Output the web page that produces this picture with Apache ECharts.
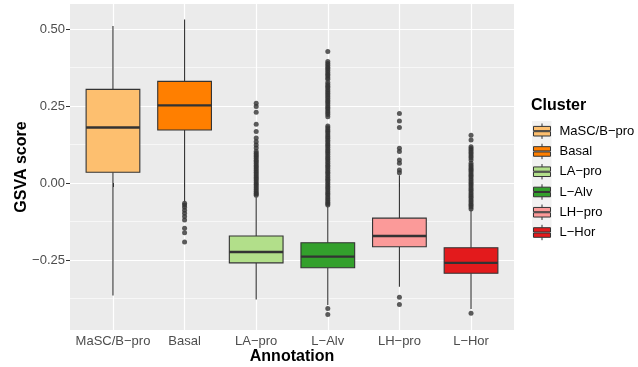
<!DOCTYPE html>
<html>
<head>
<meta charset="utf-8">
<script src="https://cdn.jsdelivr.net/npm/echarts@6/dist/echarts.min.js"></script>
<style>
  html, body { margin: 0; padding: 0; background: #ffffff; }
  #chart { width: 638px; height: 367px; }
</style>
</head>
<body>
<div id="chart"></div>
<script>
// Cell-type annotations (x axis) and their fill colours
const categories = ['MaSC/B\u2212pro', 'Basal', 'LA\u2212pro', 'L\u2212Alv', 'LH\u2212pro', 'L\u2212Hor'];
const palette = ['#FDBF6F', '#FF7F00', '#B2DF8A', '#33A02C', '#FB9A99', '#E31A1C'];

// Box statistics per annotation
const whiskerLow  = [-0.365, -0.060, -0.378, -0.396, -0.337, -0.409];
const quartile1   = [ 0.035,  0.172, -0.259, -0.275, -0.207, -0.293];
const medians     = [ 0.180,  0.252, -0.224, -0.239, -0.172, -0.259];
const quartile3   = [ 0.304,  0.330, -0.172, -0.194, -0.114, -0.210];
const whiskerHigh = [ 0.510,  0.531, -0.046, -0.076,  0.025, -0.088];

// Outlying GSVA scores per annotation
const outMaSC = [];
const outBasal = [-0.066, -0.071, -0.079, -0.088, -0.098, -0.109, -0.120, -0.147, -0.161, -0.191];
const outLApro = [0.259, 0.248, 0.230, 0.191, 0.167, 0.146, 0.134, 0.123, 0.114,
  0.102, 0.097, 0.091, 0.086, 0.080, 0.074, 0.069, 0.063, 0.057, 0.052, 0.046, 0.041,
  0.035, 0.029, 0.024, 0.018, 0.013, 0.007, 0.001, -0.004, -0.010, -0.015, -0.021,
  -0.027, -0.032, -0.036, -0.040];
const outLAlv = [0.427,
  0.394, 0.388, 0.382, 0.376, 0.371, 0.365, 0.359, 0.353, 0.348, 0.342, 0.337,
  0.326, 0.320, 0.314, 0.309, 0.303, 0.297, 0.291, 0.286, 0.280, 0.274, 0.268, 0.263,
  0.257, 0.251, 0.245, 0.240, 0.234, 0.228, 0.222, 0.215,
  0.185, 0.179, 0.173, 0.168, 0.162, 0.156, 0.150, 0.145, 0.139, 0.133, 0.127, 0.122,
  0.116, 0.110, 0.104, 0.099, 0.093, 0.087, 0.081, 0.076, 0.070, 0.064, 0.058, 0.053,
  0.047, 0.041, 0.035, 0.030, 0.024, 0.018, 0.012, 0.007, 0.001, -0.005, -0.011, -0.016,
  -0.022, -0.028, -0.034, -0.039, -0.045, -0.051, -0.057, -0.062, -0.067, -0.071,
  -0.407, -0.427];
const outLHpro = [0.226, 0.201, 0.180, 0.113, 0.102, 0.075, 0.064, 0.042, 0.033, -0.371, -0.394];
const outLHor = [0.155, 0.140,
  0.118, 0.112, 0.106, 0.100, 0.094, 0.088, 0.082, 0.075,
  0.064, 0.058, 0.052, 0.046, 0.042,
  0.037, 0.031, 0.025, 0.020, 0.014, 0.008, 0.002, -0.003, -0.009, -0.015, -0.021,
  -0.026, -0.032, -0.038, -0.044, -0.049, -0.055, -0.061, -0.067, -0.072, -0.078, -0.084,
  -0.423];
const outliers = [outMaSC, outBasal, outLApro, outLAlv, outLHpro, outLHor];

// Axis ticks
const xPositions = [1, 2, 3, 4, 5, 6];
const yMajorTicks = [-0.25, 0, 0.25, 0.5];
const yMinorTicks = [-0.375, -0.125, 0.125, 0.375];

const FONT = "'Liberation Sans', Arial, Helvetica, sans-serif";
const INK = '#333333';

function fmtY(v) {
  return (v < 0 ? '\u2212' : '') + Math.abs(v).toFixed(2);
}

// Draws one ggplot-style box: whiskers without caps, filled box, thick median
function renderBox(params, api) {
  const x = api.value(0);
  const half = api.size([0.75, 0])[0] / 2;
  const lo = api.coord([x, api.value(1)]);
  const q1 = api.coord([x, api.value(2)]);
  const md = api.coord([x, api.value(3)]);
  const q3 = api.coord([x, api.value(4)]);
  const hi = api.coord([x, api.value(5)]);
  const lineStyle = { stroke: INK, lineWidth: 1.1 };
  return {
    type: 'group',
    children: [
      { type: 'line', shape: { x1: hi[0], y1: hi[1], x2: q3[0], y2: q3[1] }, style: lineStyle },
      { type: 'line', shape: { x1: q1[0], y1: q1[1], x2: lo[0], y2: lo[1] }, style: lineStyle },
      { type: 'rect', shape: { x: q3[0] - half, y: q3[1], width: half * 2, height: q1[1] - q3[1] },
        style: { fill: api.visual('color'), stroke: INK, lineWidth: 1.1 } },
      { type: 'line', shape: { x1: md[0] - half, y1: md[1], x2: md[0] + half, y2: md[1] },
        style: { stroke: INK, lineWidth: 2.4 } }
    ]
  };
}

const boxSeries = categories.map((name, i) => ({
  name: name,
  type: 'custom',
  renderItem: renderBox,
  itemStyle: { color: palette[i] },
  encode: { x: 0, y: [1, 2, 3, 4, 5] },
  data: [[xPositions[i], whiskerLow[i], quartile1[i], medians[i], quartile3[i], whiskerHigh[i]]],
  z: 3
}));

const outlierPoints = [];
outliers.forEach((vals, i) => vals.forEach(v => outlierPoints.push([xPositions[i], v])));

const chart = echarts.init(document.getElementById('chart'), null, { renderer: 'canvas' });
chart.setOption({
  animation: false,
  backgroundColor: '#ffffff',
  textStyle: { fontFamily: FONT },
  title: {
    text: 'Cluster',
    left: 531,
    top: 98,
    padding: 0,
    textStyle: { fontFamily: FONT, fontSize: 16, fontWeight: 'bold', color: '#000000' }
  },
  graphic: [{
    type: 'rect',
    left: 532,
    top: 121,
    z: 0,
    shape: { width: 19.5, height: 115.6 },
    style: { fill: '#F2F2F2' }
  }],
  legend: {
    data: categories,
    orient: 'vertical',
    left: 533,
    top: 123,
    padding: 0,
    itemWidth: 17,
    itemHeight: 15.4,
    itemGap: 3.86,
    icon: 'path://M8.5,0V2.9 M0,2.9H17V7.2H0Z M0,8.2H17V12.5H0Z M8.5,12.5V15.4',
    itemStyle: { borderColor: INK, borderWidth: 1 },
    textStyle: { fontFamily: FONT, fontSize: 13, color: '#000000', padding: [0, 0, 0, 4] },
    selectedMode: false
  },
  grid: {
    left: 70, top: 4, width: 444, height: 326,
    outerBoundsMode: 'none',
    containLabel: false,
    show: true, backgroundColor: '#EBEBEB', borderWidth: 0
  },
  xAxis: {
    type: 'value',
    min: 0.4,
    max: 6.6,
    name: 'Annotation',
    nameLocation: 'middle',
    nameGap: 19,
    nameMoveOverlap: false,
    nameTextStyle: { fontFamily: FONT, fontSize: 16, fontWeight: 'bold', color: '#000000' },
    axisLine: { show: false },
    axisTick: { show: true, customValues: xPositions, length: 4, lineStyle: { color: INK, width: 1 } },
    axisLabel: {
      customValues: xPositions,
      margin: 5,
      fontFamily: FONT, fontSize: 13, color: '#4D4D4D',
      formatter: v => categories[Math.round(v) - 1]
    },
    splitLine: { show: true, lineStyle: { color: '#FFFFFF', width: 1.2 } }
  },
  yAxis: [{
    type: 'value',
    min: -0.477,
    max: 0.581,
    name: 'GSVA score',
    nameLocation: 'middle',
    nameRotate: 90,
    nameGap: 40,
    nameMoveOverlap: false,
    nameTextStyle: { fontFamily: FONT, fontSize: 16, fontWeight: 'bold', color: '#000000' },
    axisLine: { show: false },
    axisTick: { show: true, customValues: yMajorTicks, length: 4, lineStyle: { color: INK, width: 1 } },
    axisLabel: { customValues: yMajorTicks, margin: 5, fontFamily: FONT, fontSize: 13, color: '#4D4D4D', formatter: fmtY },
    splitLine: { show: true, lineStyle: { color: '#FFFFFF', width: 1.2 } }
  }, {
    type: 'value',
    min: -0.477,
    max: 0.581,
    position: 'left',
    axisLine: { show: false },
    axisTick: { show: false, customValues: yMinorTicks },
    axisLabel: { show: false, customValues: yMinorTicks },
    splitLine: { show: true, lineStyle: { color: '#FFFFFF', width: 0.6 } }
  }],
  series: boxSeries.concat([{
    name: 'outliers',
    type: 'scatter',
    data: outlierPoints,
    symbol: 'circle',
    symbolSize: 5,
    itemStyle: { color: INK },
    z: 2
  }])
});
</script>
</body>
</html>
